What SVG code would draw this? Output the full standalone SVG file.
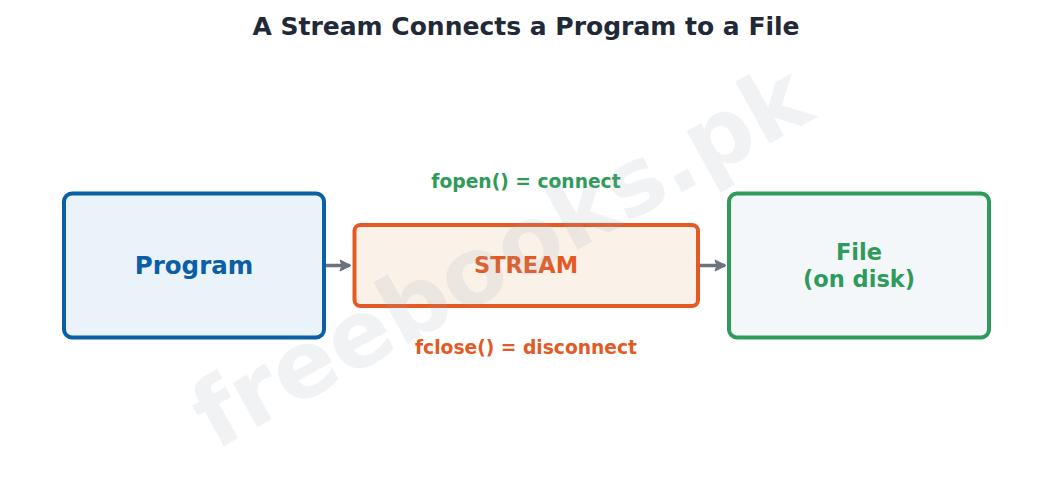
<svg xmlns="http://www.w3.org/2000/svg" width="1053" height="500" viewBox="0 0 1053 500">
<defs>
<style>
.t{font-family:"DejaVu Sans","Liberation Sans",sans-serif;font-weight:bold;text-anchor:middle}
.box{stroke-width:4}
.conn{stroke:#6b7280;stroke-width:3.5;fill:none}
</style>
<marker id="ah" markerWidth="14" markerHeight="14" refX="11" refY="7" orient="auto" markerUnits="userSpaceOnUse">
<path d="M1,1.5 L12,7 L1,12.5 L3,7 Z" fill="#6b7280" stroke="#6b7280" stroke-width="1" stroke-linejoin="round"/>
</marker>
</defs>
<rect width="1053" height="500" fill="#ffffff"/>
<text class="t" x="526" y="35" font-size="25" fill="#1f2937">A Stream Connects a Program to a File</text>
<g id="connectors">
<line class="conn" x1="324" y1="265.5" x2="350" y2="265.5" marker-end="url(#ah)"/>
<line class="conn" x1="698" y1="265.5" x2="725" y2="265.5" marker-end="url(#ah)"/>
</g>
<g id="program">
<rect class="box" x="64" y="193.5" width="260" height="144" rx="8" fill="#eaf2fa" stroke="#0b5fa5"/>
<text class="t" x="194" y="274" font-size="24.5" fill="#0b5fa5">Program</text>
</g>
<g id="stream">
<rect class="box" x="354.5" y="225" width="343.5" height="81" rx="6" fill="#faf1e8" stroke="#e35a24"/>
<text class="t" x="526" y="273" font-size="22.5" fill="#e35a24">STREAM</text>
<text class="t" x="526" y="188" font-size="18.7" fill="#2e9b5a">fopen() = connect</text>
<text class="t" x="526" y="354" font-size="18.7" fill="#e35a24">fclose() = disconnect</text>
</g>
<g id="file">
<rect class="box" x="729" y="193.5" width="260" height="144" rx="8" fill="#f3f7fa" stroke="#2e9b5a"/>
<text class="t" x="859" y="260" font-size="22.5" fill="#2e9b5a">File</text>
<text class="t" x="859" y="287" font-size="22.5" fill="#2e9b5a">(on disk)</text>
</g>
<text class="t" x="0" y="0" font-size="93" fill="#9ca3af" fill-opacity="0.14" transform="translate(516,284) rotate(-29)">freebooks.pk</text>
</svg>
